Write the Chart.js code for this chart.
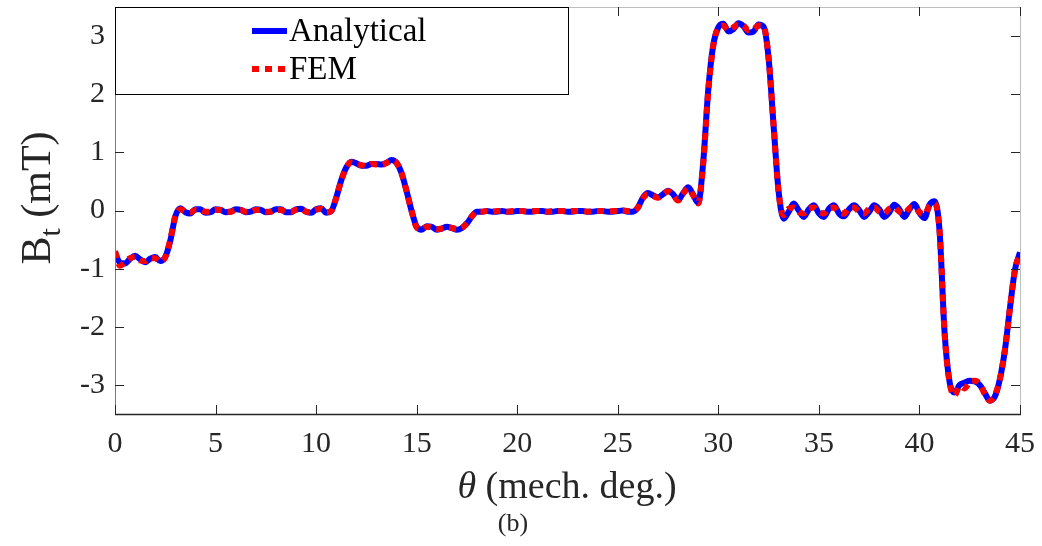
<!DOCTYPE html>
<html>
<head>
<meta charset="utf-8">
<title>Tangential flux density</title>
<script src="https://cdn.jsdelivr.net/npm/chart.js@4.4.0/dist/chart.umd.min.js"></script>
<style>
  html, body { margin: 0; padding: 0; background: #fff; }
  #wrap { width: 1042px; height: 546px; position: relative; }
</style>
</head>
<body>
<div id="wrap"><canvas id="btChart"></canvas></div>
<script>
// rotor position (mech. deg.), sampled every 0.25 deg
const theta = [
  0, 0.25, 0.5, 0.75, 1, 1.25, 1.5, 1.75, 2, 2.25, 2.5, 2.75, 3, 3.25, 3.5, 3.75, 4, 4.25, 4.5, 4.75,
  5, 5.25, 5.5, 5.75, 6, 6.25, 6.5, 6.75, 7, 7.25, 7.5, 7.75, 8, 8.25, 8.5, 8.75, 9, 9.25, 9.5, 9.75,
  10, 10.25, 10.5, 10.75, 11, 11.25, 11.5, 11.75, 12, 12.25, 12.5, 12.75, 13, 13.25, 13.5, 13.75, 14, 14.25, 14.5, 14.75,
  15, 15.25, 15.5, 15.75, 16, 16.25, 16.5, 16.75, 17, 17.25, 17.5, 17.75, 18, 18.25, 18.5, 18.75, 19, 19.25, 19.5, 19.75,
  20, 20.25, 20.5, 20.75, 21, 21.25, 21.5, 21.75, 22, 22.25, 22.5, 22.75, 23, 23.25, 23.5, 23.75, 24, 24.25, 24.5, 24.75,
  25, 25.25, 25.5, 25.75, 26, 26.25, 26.5, 26.75, 27, 27.25, 27.5, 27.75, 28, 28.25, 28.5, 28.75, 29, 29.25, 29.5, 29.75,
  30, 30.25, 30.5, 30.75, 31, 31.25, 31.5, 31.75, 32, 32.25, 32.5, 32.75, 33, 33.25, 33.5, 33.75, 34, 34.25, 34.5, 34.75,
  35, 35.25, 35.5, 35.75, 36, 36.25, 36.5, 36.75, 37, 37.25, 37.5, 37.75, 38, 38.25, 38.5, 38.75, 39, 39.25, 39.5, 39.75,
  40, 40.25, 40.5, 40.75, 41, 41.25, 41.5, 41.75, 42, 42.25, 42.5, 42.75, 43, 43.25, 43.5, 43.75, 44, 44.25, 44.5, 44.75,
  45
];

// B_t (mT), analytical model
const btAnalytical = [
  -0.72, -0.90, -0.91, -0.83, -0.78, -0.84, -0.89, -0.83, -0.80, -0.87, -0.80, -0.52, -0.10, 0.04, -0.03, -0.05, 0.02, 0.02, -0.04, -0.03,
  0.02, 0.01, -0.03, -0.02, 0.02, 0.01, -0.03, -0.02, 0.02, 0.01, -0.03, -0.02, 0.02, 0.02, -0.03, -0.03, 0.02, 0.03, -0.02, -0.04,
  0.02, 0.04, -0.04, -0.01, 0.22, 0.52, 0.74, 0.84, 0.81, 0.77, 0.77, 0.80, 0.80, 0.79, 0.82, 0.87, 0.82, 0.64, 0.33, -0.01,
  -0.28, -0.33, -0.27, -0.28, -0.33, -0.31, -0.28, -0.30, -0.33, -0.30, -0.22, -0.10, -0.02, -0.02, -0.01, -0.02, -0.02, -0.01, -0.02, -0.02,
  -0.01, -0.01, -0.02, -0.02, -0.01, -0.01, -0.02, -0.02, -0.01, -0.01, -0.02, -0.02, -0.01, -0.01, -0.02, -0.02, -0.01, -0.01, -0.02, -0.02,
  -0.01, 0.00, -0.02, -0.02, 0.05, 0.22, 0.30, 0.26, 0.23, 0.28, 0.34, 0.28, 0.18, 0.30, 0.40, 0.27, 0.13, 0.84, 2.08, 2.85,
  3.15, 3.21, 3.08, 3.12, 3.22, 3.17, 3.06, 3.08, 3.20, 3.16, 2.62, 1.45, 0.32, -0.14, -0.02, 0.12, 0.00, -0.11, 0.02, 0.09,
  -0.05, -0.11, 0.03, 0.09, -0.05, -0.10, 0.02, 0.09, 0.01, -0.11, -0.02, 0.09, 0.02, -0.11, -0.03, 0.10, 0.02, -0.11, 0.02, 0.11,
  -0.04, -0.13, 0.10, 0.16, -0.35, -2.10, -2.95, -3.13, -3.00, -2.96, -2.93, -2.94, -3.00, -3.14, -3.27, -3.20, -2.90, -2.40, -1.68, -1.02,
  -0.72
];

// B_t (mT), finite element result
const btFem = [
  -0.70, -0.95, -0.88, -0.82, -0.80, -0.86, -0.87, -0.82, -0.82, -0.88, -0.80, -0.50, -0.10, 0.02, -0.02, -0.03, 0.01, 0.01, -0.02, -0.02,
  0.01, 0.01, -0.02, -0.02, 0.01, 0.01, -0.02, -0.02, 0.01, 0.01, -0.02, -0.02, 0.01, 0.01, -0.02, -0.02, 0.01, 0.02, -0.02, -0.03,
  0.01, 0.03, -0.03, -0.01, 0.22, 0.52, 0.74, 0.83, 0.80, 0.78, 0.76, 0.80, 0.79, 0.78, 0.82, 0.86, 0.82, 0.64, 0.33, -0.01,
  -0.29, -0.32, -0.28, -0.29, -0.32, -0.31, -0.29, -0.30, -0.32, -0.30, -0.22, -0.10, -0.02, -0.02, -0.01, -0.02, -0.01, -0.01, -0.02, -0.01,
  -0.01, -0.01, -0.02, -0.01, -0.01, -0.01, -0.02, -0.01, -0.01, -0.01, -0.02, -0.01, -0.01, -0.01, -0.02, -0.01, -0.01, -0.01, -0.02, -0.01,
  -0.01, 0.00, -0.01, -0.01, 0.05, 0.21, 0.28, 0.25, 0.22, 0.28, 0.33, 0.27, 0.17, 0.29, 0.38, 0.26, 0.12, 0.82, 2.06, 2.84,
  3.14, 3.18, 3.10, 3.15, 3.20, 3.18, 3.10, 3.12, 3.18, 3.17, 2.62, 1.45, 0.30, -0.08, 0.03, 0.05, -0.03, -0.05, 0.04, 0.05,
  -0.03, -0.05, 0.04, 0.05, -0.03, -0.05, 0.04, 0.05, -0.02, -0.05, 0.03, 0.05, -0.02, -0.05, 0.03, 0.05, -0.02, -0.05, 0.04, 0.06,
  -0.03, -0.07, 0.08, 0.12, -0.35, -2.10, -2.96, -3.18, -3.02, -3.06, -2.95, -2.93, -2.98, -3.16, -3.27, -3.18, -2.90, -2.40, -1.68, -1.02,
  -0.74
];

const xTicks = [0, 5, 10, 15, 20, 25, 30, 35, 40, 45];
const yTicks = [-3, -2, -1, 0, 1, 2, 3];

const SERIF = '"Liberation Serif", "Times New Roman", serif';
const AXIS_COLOR = '#262626';

function toPoints(ys) {
  return theta.map((t, i) => ({ x: t, y: ys[i] }));
}

// box, inward ticks, legend and axis titles in the MATLAB style
const matlabDecor = {
  id: 'matlabDecor',
  afterDatasetsDraw(chart) {
    const { ctx, chartArea: a, scales: { x, y } } = chart;
    const tickLen = 9;
    ctx.save();

    // frame: left/bottom dark, top/right lighter
    ctx.lineWidth = 1;
    ctx.strokeStyle = '#bdbdbd';
    ctx.beginPath();
    ctx.moveTo(a.left, a.top + 0.5);
    ctx.lineTo(a.right + 0.5, a.top + 0.5);
    ctx.lineTo(a.right + 0.5, a.bottom);
    ctx.stroke();
    ctx.strokeStyle = '#7a7a7a';
    ctx.beginPath();
    ctx.moveTo(a.left + 0.5, a.top);
    ctx.lineTo(a.left + 0.5, a.bottom);
    ctx.stroke();
    ctx.strokeStyle = AXIS_COLOR;
    ctx.lineWidth = 1.5;
    ctx.beginPath();
    ctx.moveTo(a.left, a.bottom + 0.5);
    ctx.lineTo(a.right + 1, a.bottom + 0.5);
    ctx.stroke();

    // inward tick marks on all four sides
    ctx.strokeStyle = AXIS_COLOR;
    ctx.lineWidth = 1;
    ctx.beginPath();
    xTicks.forEach(v => {
      const px = Math.round(x.getPixelForValue(v)) + 0.5;
      ctx.moveTo(px, a.bottom);
      ctx.lineTo(px, a.bottom - tickLen);
      ctx.moveTo(px, a.top);
      ctx.lineTo(px, a.top + tickLen);
    });
    yTicks.forEach(v => {
      const py = Math.round(y.getPixelForValue(v)) + 0.5;
      ctx.moveTo(a.left, py);
      ctx.lineTo(a.left + tickLen, py);
      ctx.moveTo(a.right, py);
      ctx.lineTo(a.right - tickLen, py);
    });
    ctx.stroke();

    // legend box
    const lg = { left: a.left, top: a.top, right: 568, bottom: 94 };
    ctx.fillStyle = '#fff';
    ctx.fillRect(lg.left, lg.top, lg.right - lg.left, lg.bottom - lg.top);
    ctx.strokeStyle = '#000';
    ctx.lineWidth = 1;
    ctx.strokeRect(lg.left + 0.5, lg.top + 0.5, lg.right - lg.left, lg.bottom - lg.top);

    const rows = [31, 69];
    ctx.font = '33px ' + SERIF;
    ctx.textBaseline = 'middle';
    ctx.textAlign = 'left';
    chart.data.datasets.forEach((ds, i) => {
      const cy = rows[i];
      ctx.strokeStyle = ds.borderColor;
      ctx.lineWidth = ds.borderWidth;
      ctx.setLineDash(ds.borderDash || []);
      ctx.lineCap = 'butt';
      ctx.beginPath();
      ctx.moveTo(252, cy);
      ctx.lineTo(287, cy);
      ctx.stroke();
      ctx.setLineDash([]);
      ctx.fillStyle = '#000';
      ctx.fillText(ds.label, 289, cy + 1);
    });

    // x axis title: italic theta followed by the unit text
    ctx.fillStyle = AXIS_COLOR;
    ctx.textBaseline = 'alphabetic';
    const th = 'θ', rest = ' (mech. deg.)';
    ctx.font = 'italic 38px ' + SERIF;
    const wTh = ctx.measureText(th).width;
    ctx.font = '38px ' + SERIF;
    const wRest = ctx.measureText(rest).width;
    let sx = 567 - (wTh + wRest) / 2;
    ctx.font = 'italic 38px ' + SERIF;
    ctx.fillText(th, sx, 498);
    ctx.font = '38px ' + SERIF;
    ctx.fillText(rest, sx + wTh, 498);

    // panel label
    ctx.font = '26px ' + SERIF;
    ctx.textAlign = 'center';
    ctx.fillText('(b)', 513, 531);

    // y axis title B_t (mT), rotated
    ctx.save();
    ctx.translate(50, 198);
    ctx.rotate(-Math.PI / 2);
    ctx.textAlign = 'left';
    ctx.font = '42px ' + SERIF;
    const wB = ctx.measureText('B').width;
    const wUnit = ctx.measureText(' (mT)').width;
    ctx.font = '30px ' + SERIF;
    const wT = ctx.measureText('t').width;
    let ox = -(wB + wT + wUnit) / 2;
    ctx.font = '42px ' + SERIF;
    ctx.fillText('B', ox, 0);
    ctx.font = '30px ' + SERIF;
    ctx.fillText('t', ox + wB, 10);
    ctx.font = '42px ' + SERIF;
    ctx.fillText(' (mT)', ox + wB + wT, 0);
    ctx.restore();

    ctx.restore();
  }
};

function initializeFluxChart() {
  const ctx = document.getElementById('btChart');
  if (!ctx) return;

  new Chart(ctx, {
    type: 'line',
    data: {
      datasets: [
        {
          label: 'Analytical',
          data: toPoints(btAnalytical),
          borderColor: '#0000ff',
          borderWidth: 6,
          pointRadius: 0,
          cubicInterpolationMode: 'monotone',
          order: 1
        },
        {
          label: 'FEM',
          data: toPoints(btFem),
          borderColor: '#ff0000',
          borderWidth: 6,
          borderDash: [7, 6],
          borderCapStyle: 'butt',
          pointRadius: 0,
          cubicInterpolationMode: 'monotone',
          order: 0
        }
      ]
    },
    options: {
      responsive: true,
      maintainAspectRatio: false,
      animation: false,
      layout: {
        padding: { top: 7, right: 22, bottom: 0, left: 0 }
      },
      plugins: {
        legend: { display: false },
        tooltip: { enabled: false }
      },
      scales: {
        x: {
          type: 'linear',
          min: 0,
          max: 45,
          afterBuildTicks: s => { s.ticks = xTicks.map(v => ({ value: v })); },
          afterFit: s => {
            s.height = 132;
            s.paddingLeft = 0;
            s.paddingRight = 0;
          },
          grid: { display: false, drawTicks: false },
          border: { display: false },
          ticks: {
            color: AXIS_COLOR,
            padding: 12,
            maxRotation: 0,
            font: { family: SERIF, size: 30 }
          }
        },
        y: {
          min: -3.5,
          max: 3.5,
          afterBuildTicks: s => { s.ticks = yTicks.map(v => ({ value: v })); },
          afterFit: s => {
            s.width = 115;
            s.paddingTop = 0;
            s.paddingBottom = 0;
          },
          grid: { display: false, drawTicks: false },
          border: { display: false },
          ticks: {
            color: AXIS_COLOR,
            padding: 10,
            font: { family: SERIF, size: 30 }
          }
        }
      }
    },
    plugins: [matlabDecor]
  });
}

document.addEventListener('DOMContentLoaded', () => {
  initializeFluxChart();
});
</script>
</body>
</html>
